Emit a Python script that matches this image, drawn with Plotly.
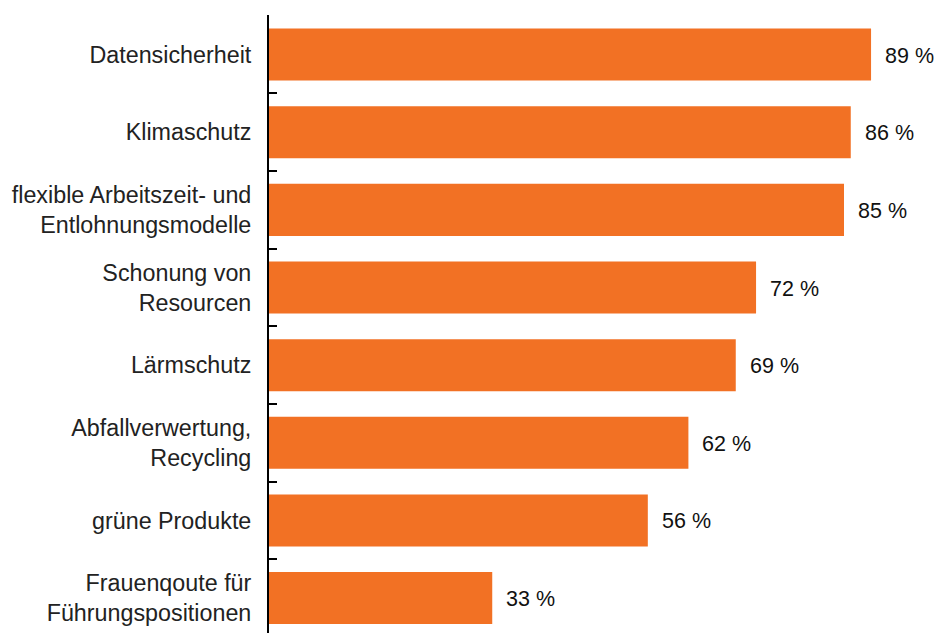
import plotly.graph_objects as go

categories = [
    "Datensicherheit",
    "Klimaschutz",
    "flexible Arbeitszeit- und<br>Entlohnungsmodelle",
    "Schonung von<br>Resourcen",
    "Lärmschutz",
    "Abfallverwertung,<br>Recycling",
    "grüne Produkte",
    "Frauenqoute für<br>Führungspositionen",
]
values = [89, 86, 85, 72, 69, 62, 56, 33]
value_labels = [f"{v} %" for v in values]

BAR_COLOR = "#F27124"
FONT = "Liberation Sans, Arial, sans-serif"

fig = go.Figure(
    go.Bar(
        x=values,
        y=categories,
        orientation="h",
        marker=dict(color=BAR_COLOR, line=dict(width=0)),
        hoverinfo="skip",
    )
)

for cat, v, lab in zip(categories, values, value_labels):
    fig.add_annotation(
        x=v, y=cat, text=lab, showarrow=False,
        xanchor="left", yanchor="middle", xshift=12, yshift=-1,
        font=dict(family=FONT, size=21.5, color="#111111"),
    )

fig.update_layout(
    width=936, height=633,
    margin=dict(l=269, r=0, t=15, b=0),
    paper_bgcolor="white", plot_bgcolor="white",
    bargap=0.33,
    showlegend=False,
    font=dict(family=FONT, size=22, color="#222222"),
)
fig.update_xaxes(
    range=[0, 98.6], showgrid=False, zeroline=False,
    showticklabels=False, ticks="", showline=False,
)
fig.update_yaxes(
    type="category",
    range=[7.45, -0.51],
    showgrid=False, zeroline=False,
    showline=True, linecolor="black", linewidth=2,
    ticks="inside", tickson="boundaries", ticklen=8, tickwidth=2, tickcolor="black",
    ticklabelstandoff=11,
    tickfont=dict(family=FONT, size=23.3, color="#222222"),
)

fig.write_html("out.html")
